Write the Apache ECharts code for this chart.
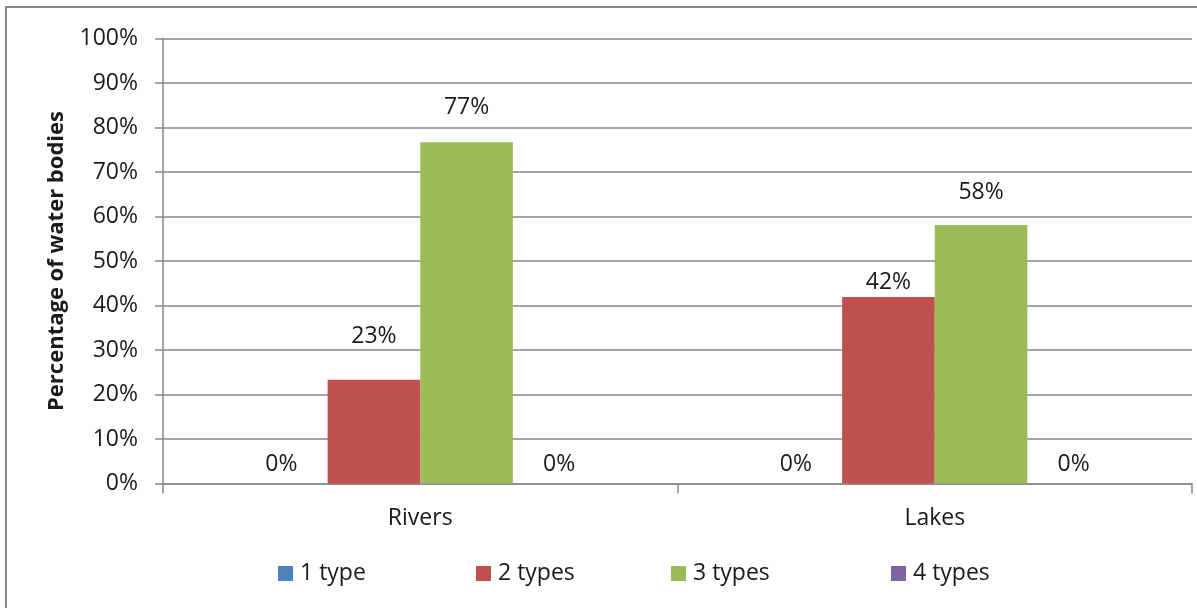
<!DOCTYPE html>
<html>
<head>
<meta charset="utf-8">
<script src="https://cdn.jsdelivr.net/npm/echarts@6/dist/echarts.min.js"></script>
<style>
html,body{margin:0;padding:0;background:#fff;}
#chart{width:1197px;height:608px;}
</style>
</head>
<body>
<div id="chart"></div>
<script>
const categories = ['Rivers', 'Lakes'];
const seriesNames = ['1 type', '2 types', '3 types', '4 types'];
const oneType = [0, 0];
const twoTypes = [23.3, 41.9];
const threeTypes = [76.7, 58.1];
const fourTypes = [0, 0];
const yTicks = [0, 10, 20, 30, 40, 50, 60, 70, 80, 90, 100];

const colors = ['#4F81BD', '#C0504D', '#9BBB59', '#8064A2'];
const values = [oneType, twoTypes, threeTypes, fourTypes];
const FONT = 'Open Sans';
const TXT = '#1a1a1a';
const FS = 23;

// label lifts (px above the bar top) that mimic the reference placement
const lifts = [[20, 20], [44, 15], [35, 33], [20, 20]];

const chart = echarts.init(document.getElementById('chart'));
const series = values.map((vals, si) => ({
  name: seriesNames[si],
  type: 'bar',
  barGap: '0%',
  barCategoryGap: '28%',
  itemStyle: { color: colors[si] },
  data: vals.map((v, ci) => ({
    value: v,
    label: { distance: lifts[si][ci] - 12 }
  })),
  label: {
    show: true,
    position: 'top',
    fontFamily: FONT,
    fontSize: FS,
    color: TXT,
    formatter: p => Math.round(p.value) + '%'
  }
}));

const legendLefts = [273, 471, 666, 886];
const legends = seriesNames.map((n, i) => ({
  data: [n],
  left: legendLefts[i],
  top: 557,
  itemWidth: 15,
  itemHeight: 15,
  itemGap: 0,
  icon: 'rect',
  textStyle: { fontFamily: FONT, fontSize: FS, color: TXT, padding: [0, 0, 0, 2] },
  selectedMode: false
}));

chart.setOption({
  animation: false,
  backgroundColor: '#fff',
  graphic: [{
    type: 'rect',
    shape: { x: 6, y: 7, width: 1220, height: 640 },
    style: { fill: 'none', stroke: '#878787', lineWidth: 2 },
    silent: true
  }],
  legend: legends,
  grid: { left: 163, right: 5, top: 38.5, bottom: 124.5, containLabel: false },
  xAxis: {
    type: 'category',
    data: categories,
    axisLine: { lineStyle: { color: '#878787', width: 1.5 } },
    axisTick: { show: true, length: 10, lineStyle: { color: '#878787', width: 1.5 } },
    axisLabel: { fontFamily: FONT, fontSize: FS, color: TXT, margin: 23 }
  },
  yAxis: {
    type: 'value',
    min: yTicks[0],
    max: yTicks[yTicks.length - 1],
    interval: 10,
    name: 'Percentage of water bodies',
    nameLocation: 'middle',
    nameGap: 95,
    nameTextStyle: { fontFamily: FONT, fontSize: 22, fontWeight: 'bold', color: TXT },
    axisLine: { show: true, lineStyle: { color: '#878787', width: 1.5 } },
    axisTick: { show: true, inside: false, length: 8, lineStyle: { color: '#878787', width: 1.5 } },
    splitLine: { lineStyle: { color: '#878787', width: 1.5 } },
    axisLabel: { fontFamily: FONT, fontSize: FS, color: TXT, margin: 25, formatter: v => v + '%' }
  },
  series: series
});
</script>
</body>
</html>
